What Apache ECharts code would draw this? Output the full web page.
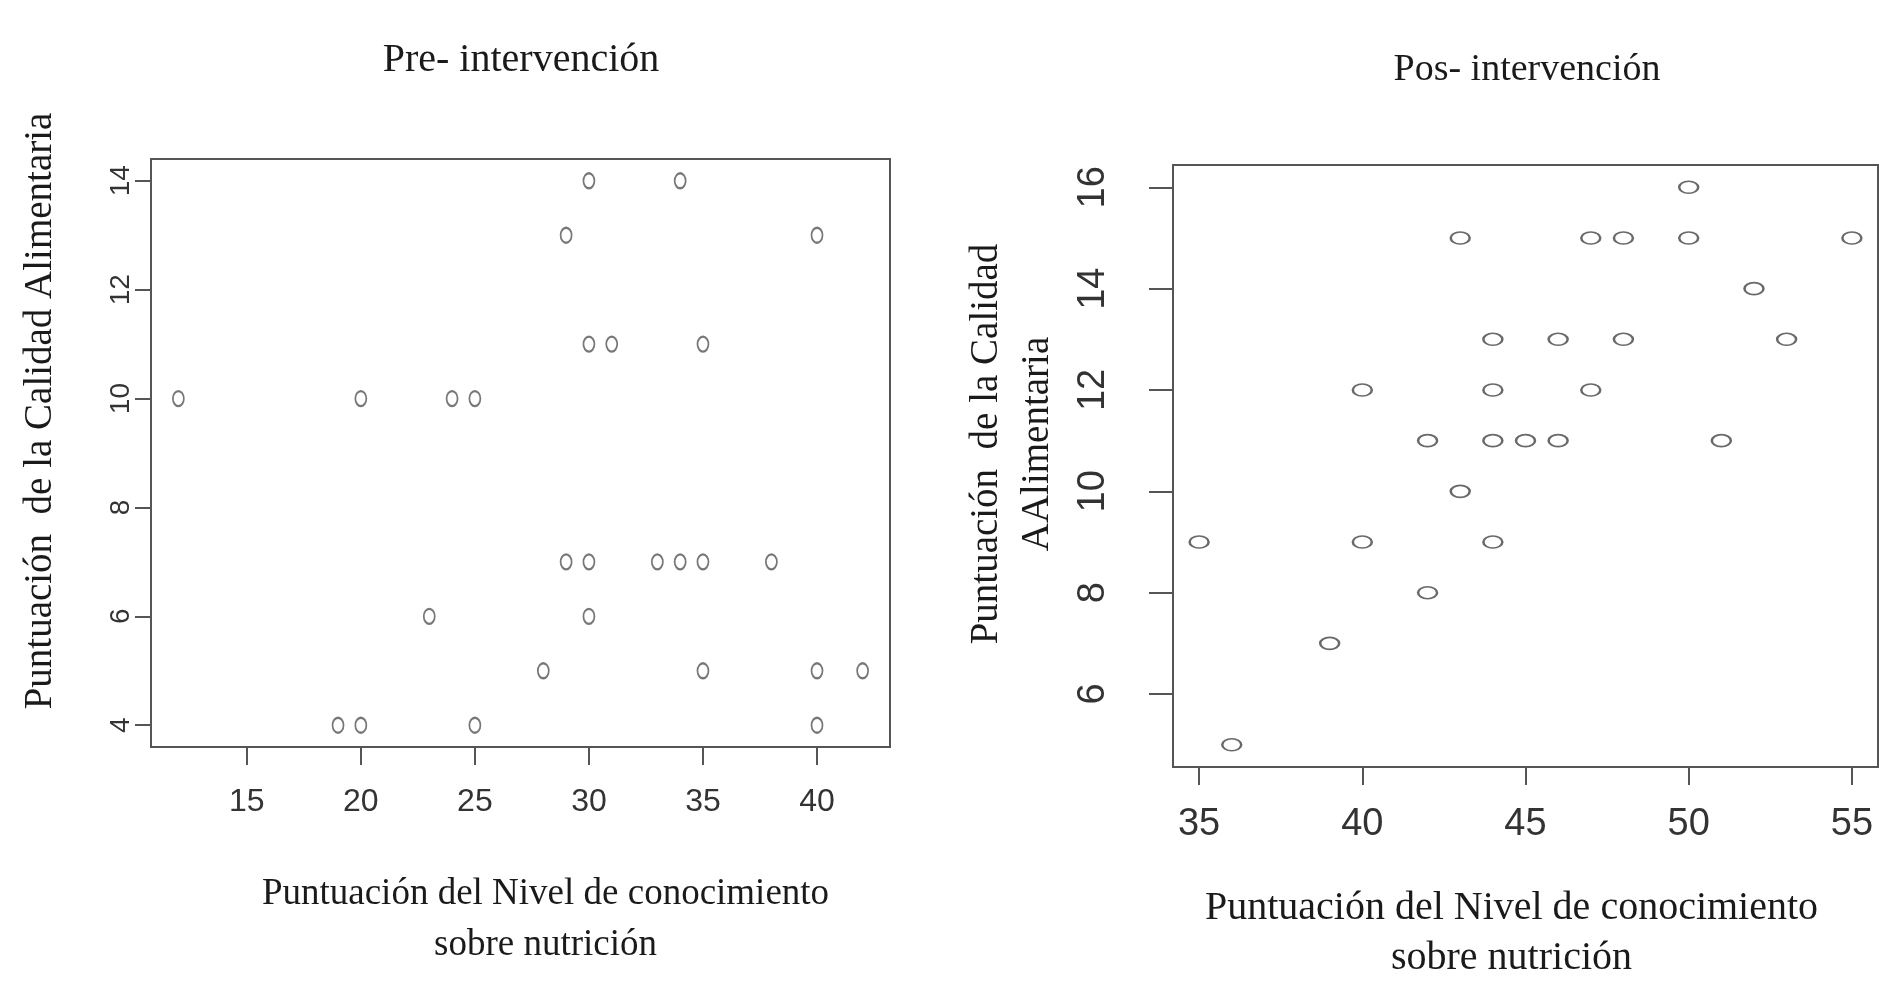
<!DOCTYPE html>
<html>
<head>
<meta charset="utf-8">
<script src="https://cdn.jsdelivr.net/npm/echarts@6/dist/echarts.min.js"></script>
<style>
html,body{margin:0;padding:0;background:#fff;}
#main{width:1879px;height:988px;}
</style>
</head>
<body>
<div id="main"></div>
<script>
// ---- Data ----
const preTitle = 'Pre- intervención';
const posTitle = 'Pos- intervención';
const xName = 'Puntuación del Nivel de conocimiento\nsobre nutrición';
const preYName = 'Puntuación  de la Calidad Alimentaria';
const posYName = 'Puntuación  de la Calidad\nAAlimentaria';

const preX = [12, 19, 20, 20, 23, 24, 25, 25, 28, 29, 29, 30, 30, 30, 31, 30, 33, 34, 35, 34, 35, 35, 38, 40, 40, 40, 42];
const preY = [10, 4, 4, 10, 6, 10, 10, 4, 5, 13, 7, 7, 14, 11, 11, 6, 7, 7, 7, 14, 11, 5, 7, 13, 5, 4, 5];

const posX = [35, 36, 39, 40, 40, 42, 42, 43, 43, 44, 44, 44, 44, 45, 46, 46, 47, 47, 48, 48, 50, 50, 51, 52, 53, 55];
const posY = [9, 5, 7, 12, 9, 11, 8, 15, 10, 13, 12, 11, 9, 11, 13, 11, 15, 12, 15, 13, 16, 15, 11, 14, 13, 15];

const preXTicks = [15, 20, 25, 30, 35, 40];
const preYTicks = [4, 6, 8, 10, 12, 14];
const posXTicks = [35, 40, 45, 50, 55];
const posYTicks = [6, 8, 10, 12, 14, 16];

// ---- Chart ----
const serif = '"Liberation Serif", "Times New Roman", serif';
const sans = '"Liberation Sans", Arial, sans-serif';
const ring = 'path://M0,50 A50,50 0 1,0 100,50 A50,50 0 1,0 0,50 Z';
const frame = '#555';

function xAxisCfg(idx, min, max, ticks, size, tickLen, margin, nameGap, namePad, nameSize, nameLH) {
  return {
    type: 'value', gridIndex: idx, min: min, max: max,
    axisLine: {show: false},
    splitLine: {show: false},
    axisTick: {show: true, length: tickLen, customValues: ticks, lineStyle: {color: frame, width: 2}},
    axisLabel: {customValues: ticks, fontFamily: sans, fontSize: size, color: '#333', margin: margin},
    name: xName, nameLocation: 'middle', nameGap: nameGap,
    nameTextStyle: {fontFamily: serif, fontSize: nameSize, color: '#1a1a1a', lineHeight: nameLH, padding: namePad}
  };
}
function yAxisCfg(idx, min, max, ticks, size, tickLen, margin, name, nameGap, namePad, nameSize, nameLH) {
  return {
    type: 'value', gridIndex: idx, min: min, max: max,
    axisLine: {show: false},
    splitLine: {show: false},
    axisTick: {show: true, length: tickLen, customValues: ticks, lineStyle: {color: frame, width: 2}},
    axisLabel: {customValues: ticks, fontFamily: sans, fontSize: size, color: '#333', margin: margin, rotate: 90},
    name: name, nameLocation: 'middle', nameGap: nameGap, nameRotate: 90,
    nameTextStyle: {fontFamily: serif, fontSize: nameSize, color: '#1a1a1a', lineHeight: nameLH, padding: namePad}
  };
}

const chart = echarts.init(document.getElementById('main'), null, {renderer: 'canvas'});
chart.setOption({
  backgroundColor: '#fff',
  animation: false,
  title: [
    {text: preTitle, left: 516, top: 35, textAlign: 'center',
     textStyle: {fontFamily: serif, fontSize: 40, fontWeight: 'normal', color: '#1a1a1a'}},
    {text: posTitle, left: 1522, top: 46, textAlign: 'center',
     textStyle: {fontFamily: serif, fontSize: 38, fontWeight: 'normal', color: '#1a1a1a'}}
  ],
  grid: [
    {left: 151, top: 159, width: 739, height: 588, show: true, borderColor: frame, borderWidth: 2, backgroundColor: 'transparent'},
    {left: 1173, top: 165, width: 705, height: 614, show: true, borderColor: frame, borderWidth: 2, backgroundColor: 'transparent'}
  ],
  xAxis: [
    xAxisCfg(0, 10.8, 43.2, preXTicks, 32, 18, 39, 122, [0, 0, 0, 50], 37, 51),
    xAxisCfg(1, 34.2, 55.8, posXTicks, 38, 18, 39, 116, [0, 28, 0, 0], 40, 50)
  ],
  yAxis: [
    yAxisCfg(0, 3.6, 14.4, preYTicks, 28, 16, 16, preYName, 90, [0, 0, 0, 84], 39, 40),
    yAxisCfg(1, 4.56, 16.44, posYTicks, 38, 24, 60, posYName, 110, [0, 0, 0, 44], 39, 51)
  ],
  series: [
    {type: 'scatter', xAxisIndex: 0, yAxisIndex: 0,
     data: preX.map((x, i) => [x, preY[i]]),
     symbol: ring, symbolSize: [11, 15],
     itemStyle: {color: 'rgba(0,0,0,0)', borderColor: '#555', borderWidth: 2}},
    {type: 'scatter', xAxisIndex: 1, yAxisIndex: 1,
     data: posX.map((x, i) => [x, posY[i]]),
     symbol: ring, symbolSize: [19, 12],
     itemStyle: {color: 'rgba(0,0,0,0)', borderColor: '#444', borderWidth: 2}}
  ]
});
</script>
</body>
</html>
